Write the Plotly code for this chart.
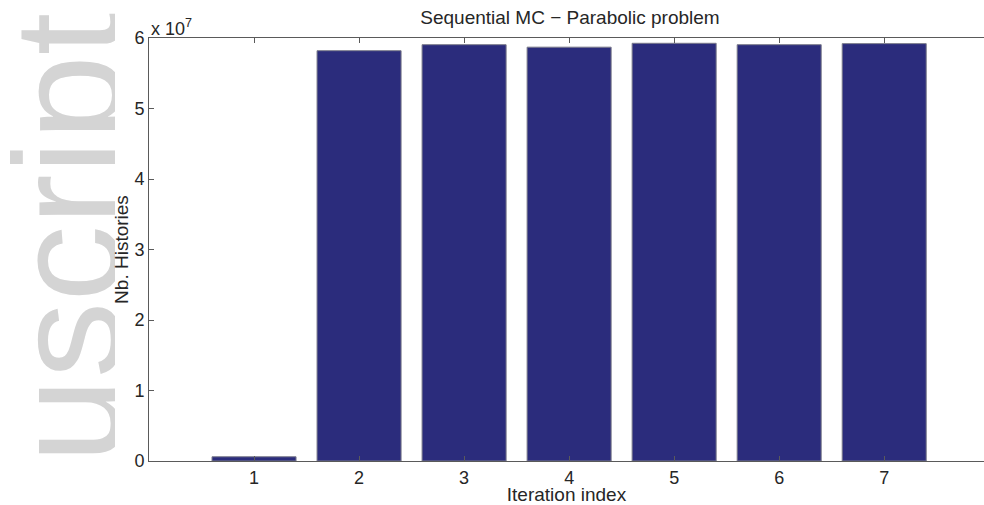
import plotly.graph_objects as go

iterations = [1, 2, 3, 4, 5, 6, 7]
histories = [6.0e5, 5.82e7, 5.905e7, 5.87e7, 5.925e7, 5.905e7, 5.92e7]
y_tick_vals = [0, 1e7, 2e7, 3e7, 4e7, 5e7, 6e7]
y_tick_text = ["0", "1", "2", "3", "4", "5", "6"]
x_tick_vals = [1, 2, 3, 4, 5, 6, 7]
watermark = "uscript"

FONT = "Liberation Sans, Arial, Helvetica, sans-serif"
TXT = "#262626"
AX = "#5a5a5a"
W, H = 984, 505
L, R, T, B = 149, 984, 38, 461

fig = go.Figure()

# watermark (clipped, behind everything) on its own hidden pixel-unit axes
fig.add_trace(go.Bar(
    x=[66], y=[556], base=[-40], width=[120], xaxis="x3", yaxis="y3",
    marker=dict(color="rgba(0,0,0,0)", line=dict(width=0)),
    text=[watermark], textposition="inside", textangle=-90,
    insidetextanchor="middle", constraintext="none", cliponaxis=True,
    textfont=dict(size=153, color="#d4d4d4", family=FONT),
    hoverinfo="skip", showlegend=False,
))

fig.add_trace(go.Bar(
    x=iterations, y=histories, width=0.8,
    marker=dict(color="#2B2C7C", line=dict(color="#7a7a8a", width=1)),
    showlegend=False,
))

fig.update_layout(
    width=W, height=H,
    margin=dict(l=0, r=0, t=0, b=0, autoexpand=False),
    paper_bgcolor="white", plot_bgcolor="rgba(0,0,0,0)",
    uniformtext=dict(minsize=153, mode="show"),
    font=dict(family=FONT, size=18, color=TXT),
    title=dict(text="Sequential MC \u2212 Parabolic problem", x=570 / W,
               xanchor="center", y=1 - 17 / H, yanchor="middle",
               font=dict(size=19, color=TXT)),
    xaxis=dict(domain=[L / W, 1], range=[0, 7.95], tickvals=x_tick_vals,
               ticks="inside", ticklen=5, tickcolor=AX, showline=True,
               linecolor=AX, linewidth=1, mirror="ticks", automargin=False,
               showgrid=False, zeroline=False,
               title=dict(text="Iteration index", standoff=3, font=dict(size=19)),
               tickfont=dict(size=18)),
    yaxis=dict(domain=[1 - B / H, 1 - T / H], range=[0, 6e7], tickvals=y_tick_vals,
               ticktext=y_tick_text, ticks="inside", ticklen=5, tickcolor=AX,
               showline=True, linecolor=AX, linewidth=1, showgrid=False,
               zeroline=False, automargin=False,
               title=dict(text="Nb. Histories", standoff=0, font=dict(size=19)),
               tickfont=dict(size=18)),
    yaxis2=dict(range=[0, 6e7], tickvals=y_tick_vals, ticks="inside", ticklen=5,
                tickcolor=AX, showticklabels=False, showline=False, showgrid=False,
                zeroline=False, overlaying="y", side="right", anchor="x",
                automargin=False),
    xaxis3=dict(domain=[0, 115 / W], range=[0, 115], visible=False, anchor="y3",
                fixedrange=True, automargin=False),
    yaxis3=dict(domain=[0, 1], range=[H, 0], visible=False, anchor="x3",
                fixedrange=True, automargin=False),
    bargap=0.2,
)

# exponent label
fig.add_annotation(text="x 10<sup>7</sup>", xref="paper", yref="paper",
                   x=L / W, y=1 - T / H, xanchor="left", yanchor="bottom",
                   showarrow=False, font=dict(size=18, color=TXT), xshift=0, yshift=-3)

fig.write_html("out.html")
